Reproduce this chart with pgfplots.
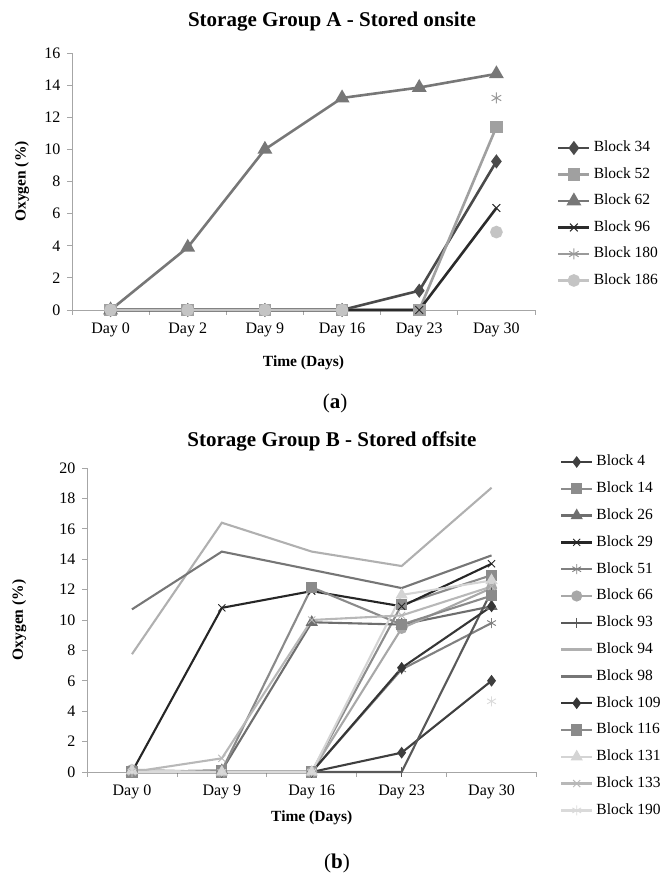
\documentclass[border=0pt]{standalone}
\usepackage{pgfplots}
\pgfplotsset{compat=1.18}
\usepackage{pgfplotstable}
\usepackage{fontspec}
\setmainfont{Liberation Serif}

\definecolor{axisgrey}{HTML}{A6A6A6}
% panel a
\definecolor{a34}{HTML}{4A4A4A}
\definecolor{a52}{HTML}{A0A0A0}
\definecolor{a62}{HTML}{777777}
\definecolor{a96}{HTML}{2B2B2B}
\definecolor{a180}{HTML}{9A9A9A}
\definecolor{a186}{HTML}{C4C4C4}
% panel b
\definecolor{b4}{HTML}{3F3F3F}
\definecolor{b14}{HTML}{8C8C8C}
\definecolor{b26}{HTML}{6E6E6E}
\definecolor{b29}{HTML}{262626}
\definecolor{b51}{HTML}{808080}
\definecolor{b66}{HTML}{A8A8A8}
\definecolor{b93}{HTML}{595959}
\definecolor{b94}{HTML}{B0B0B0}
\definecolor{b98}{HTML}{767676}
\definecolor{b109}{HTML}{363636}
\definecolor{b116}{HTML}{8A8A8A}
\definecolor{b131}{HTML}{D4D4D4}
\definecolor{b133}{HTML}{B8B8B8}
\definecolor{b190}{HTML}{DADADA}

\newcommand\tk{\fontsize{16}{18}\selectfont}
\newcommand\lgd{\fontsize{15.5}{18}\selectfont}
\newcommand\lb{\fontsize{15.5}{18}\bfseries\selectfont}
\newcommand\ttl{\fontsize{21}{24}\bfseries\selectfont}

\pgfplotstableread{
x b34 b52 b62 b96 b180 b186
0 0 0 0 0 0 0
1 0 0 3.9 0 0 0
2 0 0 10.0 0 0 0
3 0 0 13.2 0 0 0
4 1.2 0 13.85 0 nan nan
5 9.25 11.4 14.7 6.35 13.2 4.85
}\tableA

\pgfplotstableread{
x b4 b14 b26 b29 b51 b66 b93 b94 b98 b109 b116 b131 b133 b190
0 0 0 0 0 0 0.15 0 7.75 10.7 0 0 0.1 0 0
1 0 0 0.1 10.8 0 0 0 16.4 14.5 0 0.1 0 0.9 0
2 0 0 9.85 11.9 0 0 0 14.5 13.3 0 12.15 0 10.0 0
3 1.27 11.0 9.7 10.9 6.75 9.45 0 13.55 12.1 6.85 9.7 11.65 10.3 nan
4 6.0 12.95 10.9 13.7 9.8 12.1 11.9 18.7 14.25 10.9 11.6 12.6 12.2 4.65
}\tableB

\pgfplotsset{
  excel/.style={
    scale only axis,
    axis lines=left,
    axis line style={-, draw=axisgrey, line width=0.8pt},
    tick align=outside,
    major tick length=5pt,
    tick style={draw=axisgrey, line width=0.8pt},
    x tick label as interval,
    ymin=0,
    clip=false,
    unbounded coords=jump,
    /pgf/number format/assume math mode=true,
    ticklabel style={font=\tk, text=black},
    label style={font=\lb},
    legend cell align=left,
    legend style={draw=none, fill=none, inner sep=0pt, outer sep=0pt,
      anchor=north west,
      nodes={font=\lgd, inner xsep=3pt, inner ysep=0pt, text height=11pt, text depth=3pt, anchor=west}},
  },
  leglw/.initial=2.6pt,
}

\begin{document}
\begin{tikzpicture}[x=1pt,y=1pt]
\useasboundingbox (0,0) rectangle (659,875);

% ---------------- panel (a)
\node[font=\ttl] at (332,853) {Storage Group A - Stored onsite};
\begin{axis}[excel,
  at={(72pt,565pt)}, anchor=south west,
  width=463pt, height=257pt,
  xmin=-0.5, xmax=5.5, ymax=16,
  xtick={-0.5,0.5,...,5.5},
  xticklabels={Day 0,Day 2,Day 9,Day 16,Day 23,Day 30},
  ytick={0,2,...,16},
  xticklabel style={yshift=-4pt},
  yticklabel style={xshift=-3pt},
  xlabel={Time (Days)},
  xlabel style={at={(axis description cs:0.5,-0.206)}, anchor=center},
  ylabel={Oxygen (\%)},
  ylabel style={at={(axis description cs:-0.108,0.5)}, anchor=center},
  legend style={at={(axis description cs:1.0475,0.6576)}, row sep=12.5pt},
  legend image code/.code={\draw[#1, mark=none, line width=2.8pt] (0pt,0pt) -- (31pt,0pt); \draw[#1] plot[only marks] coordinates {(15.5pt,0pt)};},
  every axis plot/.append style={line width=2.6pt},
]
\addplot[color=a34, mark=diamond*, mark size=5pt, mark options={solid}] table[x=x,y=b34]{\tableA};
\addlegendentry{Block 34}
\addplot[color=a52, mark=square*, mark size=5pt, mark options={solid}] table[x=x,y=b52]{\tableA};
\addlegendentry{Block 52}
\addplot[color=a62, mark=triangle*, mark size=6pt, mark options={solid}] table[x=x,y=b62]{\tableA};
\addlegendentry{Block 62}
\addplot[color=a96, mark=x, mark size=5.5pt, mark options={solid, line width=1pt}] table[x=x,y=b96]{\tableA};
\addlegendentry{Block 96}
\addplot[color=a180, mark=asterisk, mark size=5.5pt, mark options={solid, line width=1pt}] table[x=x,y=b180]{\tableA};
\addlegendentry{Block 180}
\addplot[color=a186, mark=*, mark size=5pt, mark options={solid}] table[x=x,y=b186]{\tableA};
\addlegendentry{Block 186}
\end{axis}
\node[font=\fontsize{21}{24}\selectfont] at (335,472) {(\textbf{a})};

% ---------------- panel (b)
\node[font=\ttl] at (332,433.3) {Storage Group B - Stored offsite};
\begin{axis}[excel,
  at={(87pt,103pt)}, anchor=south west,
  width=449.5pt, height=304pt,
  xmin=-0.5, xmax=4.5, ymax=20,
  xtick={-0.5,0.5,...,4.5},
  xticklabels={Day 0,Day 9,Day 16,Day 23,Day 30},
  ytick={0,2,...,20},
  xticklabel style={yshift=-4pt},
  yticklabel style={xshift=-3pt},
  xlabel={Time (Days)},
  xlabel style={at={(axis description cs:0.5,-0.151)}, anchor=center},
  ylabel={Oxygen (\%)},
  ylabel style={at={(axis description cs:-0.151,0.5)}, anchor=center},
  legend style={at={(axis description cs:1.0523,1.0428)}, row sep=12.8pt},
  legend image code/.code={\draw[#1, mark=none, line width=2.4pt] (0pt,0pt) -- (31pt,0pt); \draw[#1] plot[only marks] coordinates {(15.5pt,0pt)};},
  every axis plot/.append style={line width=2.1pt},
]
\addplot[color=b4, mark=diamond*, mark size=4.2pt, mark options={solid}] table[x=x,y=b4]{\tableB};
\addlegendentry{Block 4}
\addplot[color=b14, mark=square*, mark size=4.5pt, mark options={solid}] table[x=x,y=b14]{\tableB};
\addlegendentry{Block 14}
\addplot[color=b26, mark=triangle*, mark size=5pt, mark options={solid}] table[x=x,y=b26]{\tableB};
\addlegendentry{Block 26}
\addplot[color=b29, mark=x, mark size=5pt, mark options={solid, line width=0.9pt}] table[x=x,y=b29]{\tableB};
\addlegendentry{Block 29}
\addplot[color=b51, mark=asterisk, mark size=5pt, mark options={solid, line width=0.9pt}] table[x=x,y=b51]{\tableB};
\addlegendentry{Block 51}
\addplot[color=b66, mark=*, mark size=4.5pt, mark options={solid}] table[x=x,y=b66]{\tableB};
\addlegendentry{Block 66}
\addplot[color=b93, mark=|, mark size=5pt, mark options={solid, line width=0.9pt}] table[x=x,y=b93]{\tableB};
\addlegendentry{Block 93}
\addplot[color=b94, mark=none] table[x=x,y=b94]{\tableB};
\addlegendentry{Block 94}
\addplot[color=b98, mark=none] table[x=x,y=b98]{\tableB};
\addlegendentry{Block 98}
\addplot[color=b109, mark=diamond*, mark size=4.2pt, mark options={solid}] table[x=x,y=b109]{\tableB};
\addlegendentry{Block 109}
\addplot[color=b116, mark=square*, mark size=4.5pt, mark options={solid}] table[x=x,y=b116]{\tableB};
\addlegendentry{Block 116}
\addplot[color=b131, mark=triangle*, mark size=5pt, mark options={solid}] table[x=x,y=b131]{\tableB};
\addlegendentry{Block 131}
\addplot[color=b133, mark=x, mark size=5pt, mark options={solid, line width=0.9pt}] table[x=x,y=b133]{\tableB};
\addlegendentry{Block 133}
\addplot[color=b190, mark=asterisk, mark size=5pt, mark options={solid, line width=0.9pt}] table[x=x,y=b190]{\tableB};
\addlegendentry{Block 190}
\end{axis}
\node[font=\fontsize{21}{24}\selectfont] at (337,12) {(\textbf{b})};
\end{tikzpicture}
\end{document}
